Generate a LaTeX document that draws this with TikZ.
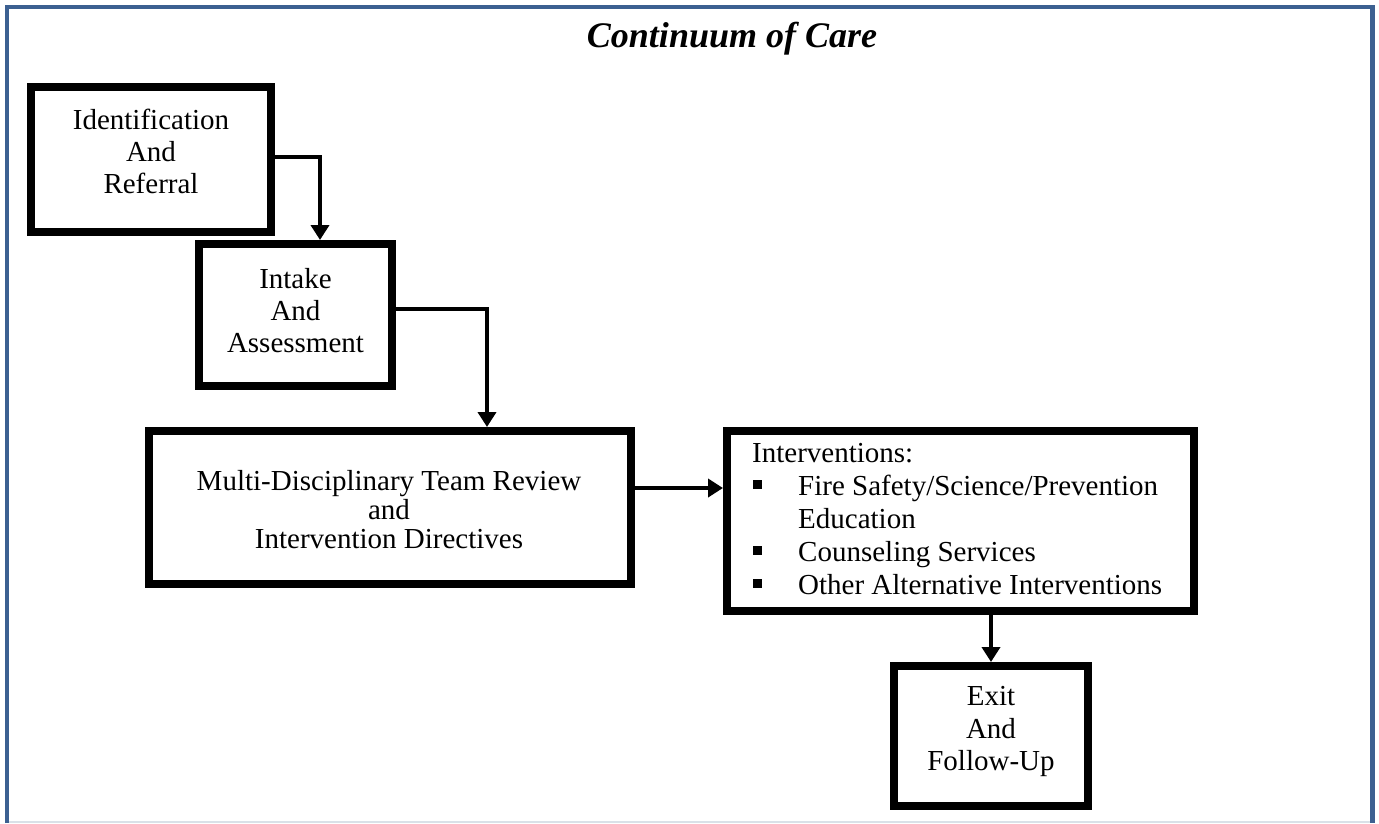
\documentclass[tikz,border=0pt]{standalone}
\usepackage{fontspec}
\setmainfont{Liberation Serif}
\usetikzlibrary{arrows.meta}
\definecolor{frameblue}{RGB}{60,96,145}
\definecolor{framegrey}{RGB}{218,225,232}
\tikzset{
  box/.style={draw=black, line width=8pt, fill=white, rectangle, inner sep=0pt},
  arr/.style={line width=4pt, -{Triangle[length=15pt,width=18pt]}},
  txt/.style={anchor=base, inner sep=0pt, font=\fontsize{29}{32}\selectfont},
  ltxt/.style={anchor=base west, inner sep=0pt, font=\fontsize{29}{32}\selectfont},
  ttl/.style={anchor=base, inner sep=0pt, font=\fontsize{36}{40}\selectfont\bfseries\itshape},
  bul/.style={fill=black, minimum size=9pt, inner sep=0pt, rectangle}
}
\begin{document}
\begin{tikzpicture}[x=1pt,y=-1pt]
\useasboundingbox (0,0) rectangle (1379,823);
% frame
\draw[framegrey, line width=1.5pt] (7,822) -- (1372.5,822);
\draw[frameblue, line width=4.5pt] (7,823) -- (7,7) -- (1372.5,7) -- (1372.5,823);
% title
\node[ttl] (title) at (732,47) {Continuum of Care};
% boxes
\node[box, minimum width=240pt, minimum height=145pt] (b1) at (151,159.5) {};
\node[box, minimum width=193pt, minimum height=142pt] (b2) at (295.5,315) {};
\node[box, minimum width=482pt, minimum height=153pt] (b3) at (390,507.5) {};
\node[box, minimum width=467pt, minimum height=180pt] (b4) at (960.5,521) {};
\node[box, minimum width=194pt, minimum height=140pt] (b5) at (991,736) {};
% texts
\node[txt] (t1a) at (151,129) {Identification};
\node[txt] (t1b) at (151,161) {And};
\node[txt] (t1c) at (151,193) {Referral};
\node[txt] (t2a) at (295.5,288) {Intake};
\node[txt] (t2b) at (295.5,320) {And};
\node[txt] (t2c) at (295.5,352) {Assessment};
\node[txt] (t3a) at (389,490) {Multi-Disciplinary Team Review};
\node[txt] (t3b) at (389,519) {and};
\node[txt] (t3c) at (389,548) {Intervention Directives};
\node[ltxt] (t4a) at (752,462) {Interventions:};
\node[bul] (s1) at (757.5,484) {};
\node[ltxt] (t4b) at (798,495) {Fire Safety/Science/Prevention};
\node[ltxt] (t4c) at (798,528) {Education};
\node[bul] (s2) at (757.5,550) {};
\node[ltxt] (t4d) at (798,561) {Counseling Services};
\node[bul] (s3) at (757.5,583) {};
\node[ltxt] (t4e) at (798,594) {Other Alternative Interventions};
\node[txt] (t5a) at (991,705) {Exit};
\node[txt] (t5b) at (991,738) {And};
\node[txt] (t5c) at (991,770) {Follow-Up};
% connectors
\draw[arr] ([yshift=2.5pt]b1.east) -| ([xshift=24.5pt]b2.north);
\draw[arr] ([yshift=6pt]b2.east) -| ([xshift=97pt]b3.north);
\draw[arr] ([yshift=19.5pt]b3.east) -- ([yshift=19.5pt]b3.east -| b4.west);
\draw[arr] (b5.north |- b4.south) -- (b5.north);
\end{tikzpicture}
\end{document}
